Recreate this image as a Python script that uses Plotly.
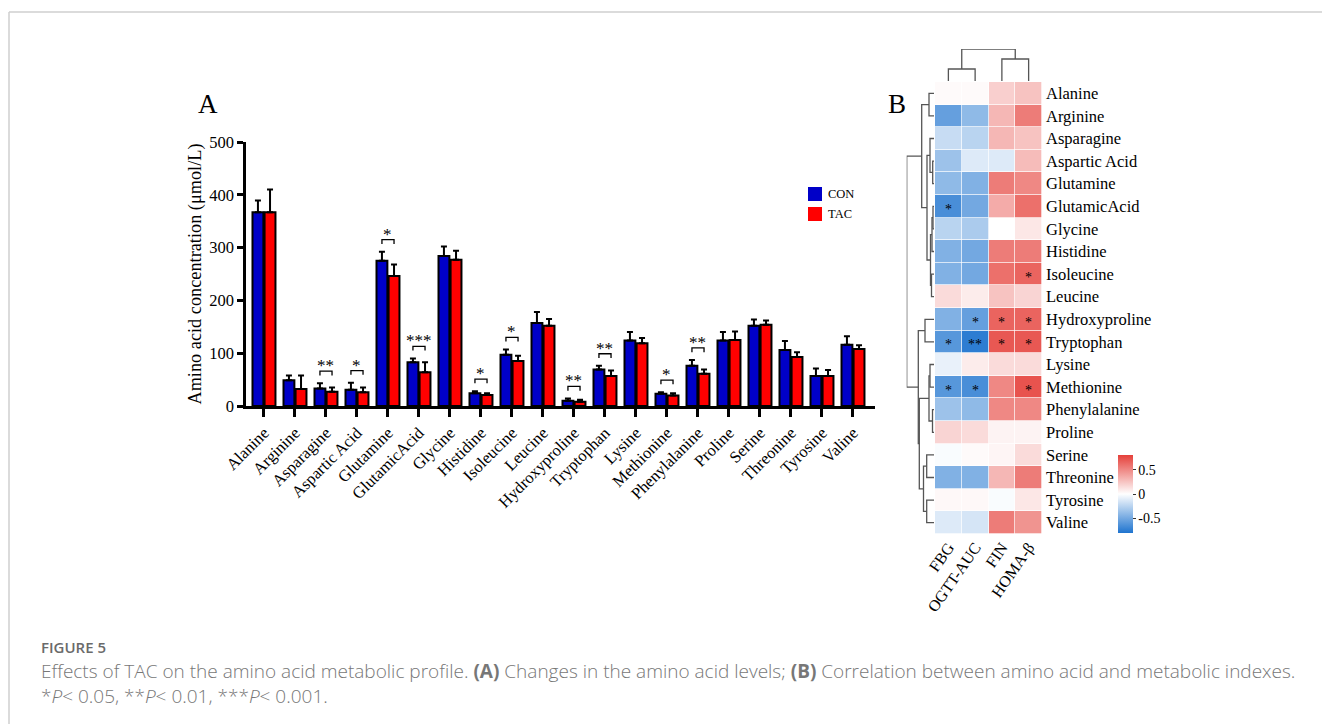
import plotly.graph_objects as go

W, H = 1322, 724


def px(x):
    return x / W


def py(y):
    return 1 - y / H


# ---------------- Panel A data ----------------
amino_acids = ["Alanine", "Arginine", "Asparagine", "Aspartic Acid", "Glutamine",
               "GlutamicAcid", "Glycine", "Histidine", "Isoleucine", "Leucine",
               "Hydroxyproline", "Tryptophan", "Lysine", "Methionine", "Phenylalanine",
               "Proline", "Serine", "Threonine", "Tyrosine", "Valine"]
con_mean = [367, 49, 33, 31, 275, 83, 284, 24, 97, 157, 10, 69, 124, 23, 76, 124, 152, 106, 57, 116]
con_sem = [22, 9, 10, 13, 17, 7, 18, 4, 10, 21, 4, 7, 16, 3, 11, 16, 12, 17, 14, 16]
tac_mean = [367, 32, 27, 26, 246, 64, 277, 21, 85, 152, 8, 57, 119, 20, 61, 125, 154, 93, 57, 108]
tac_sem = [43, 26, 8, 9, 22, 19, 17, 3, 10, 13, 4, 10, 10, 4, 8, 16, 8, 9, 11, 7]
significance = ["", "", "**", "*", "*", "***", "", "*", "*", "", "**", "**", "", "*", "**",
                "", "", "", "", ""]
y_ticks = [0, 100, 200, 300, 400, 500]

# ---------------- Panel B data ----------------
indexes = ["FBG", "OGTT-AUC", "FIN", "HOMA-β"]
corr = [
    [0.02, 0.02, 0.20, 0.25],
    [-0.55, -0.40, 0.30, 0.55],
    [-0.20, -0.25, 0.30, 0.25],
    [-0.35, -0.12, -0.12, 0.28],
    [-0.40, -0.45, 0.55, 0.50],
    [-0.65, -0.50, 0.35, 0.60],
    [-0.25, -0.30, 0.00, 0.10],
    [-0.45, -0.50, 0.55, 0.55],
    [-0.45, -0.50, 0.60, 0.65],
    [0.15, 0.08, 0.25, 0.18],
    [-0.45, -0.55, 0.65, 0.65],
    [-0.60, -0.75, 0.70, 0.70],
    [-0.08, 0.08, 0.15, 0.15],
    [-0.60, -0.65, 0.50, 0.72],
    [-0.35, -0.40, 0.50, 0.50],
    [0.18, 0.15, 0.05, 0.05],
    [-0.02, 0.02, 0.04, 0.15],
    [-0.45, -0.45, 0.30, 0.55],
    [0.03, 0.03, -0.02, 0.10],
    [-0.12, -0.15, 0.55, 0.45],
]
corr_sig = [
    ["", "", "", ""], ["", "", "", ""], ["", "", "", ""], ["", "", "", ""],
    ["", "", "", ""], ["*", "", "", ""], ["", "", "", ""], ["", "", "", ""],
    ["", "", "", "*"], ["", "", "", ""], ["", "*", "*", "*"], ["*", "**", "*", "*"],
    ["", "", "", ""], ["*", "*", "", "*"], ["", "", "", ""], ["", "", "", ""],
    ["", "", "", ""], ["", "", "", ""], ["", "", "", ""], ["", "", "", ""],
]
# hierarchical clustering merges: [child_a, child_b, height]; leaves are 0..n-1
row_merges = [
    [0, 1, 5.0],      # 20
    [3, 4, 1.3],      # 21
    [2, 21, 4.0],     # 22
    [5, 6, 1.0],      # 23
    [23, 7, 2.0],     # 24
    [8, 9, 2.5],      # 25
    [24, 25, 3.5],    # 26
    [22, 26, 7.0],    # 27
    [20, 27, 12.3],   # 28
    [10, 11, 9.0],    # 29
    [12, 13, 4.0],    # 30
    [14, 15, 1.5],    # 31
    [30, 31, 5.0],    # 32
    [16, 17, 7.3],    # 33
    [18, 19, 7.3],    # 34
    [33, 34, 10.5],   # 35
    [32, 35, 14.7],   # 36
    [29, 36, 15.7],   # 37
    [28, 37, 27.3],   # 38
]
col_merges = [
    [0, 1, 12.0],
    [2, 3, 22.0],
    [4, 5, 32.0],
]


def dendro_segments(n_leaves, merges):
    pos = {i: float(i) for i in range(n_leaves)}
    hgt = {i: 0.0 for i in range(n_leaves)}
    xs, ys = [], []
    for k, (a, b, h) in enumerate(merges):
        node = n_leaves + k
        xs += [pos[a], pos[a], pos[b], pos[b], None]
        ys += [hgt[a], h, h, hgt[b], None]
        pos[node] = (pos[a] + pos[b]) / 2
        hgt[node] = h
    return xs, ys


blue = "#0000c8"
red = "#ff0000"
serif = "Liberation Serif, Times New Roman, serif"
n = len(amino_acids)
idx = list(range(n))

fig = go.Figure()

fig.add_trace(go.Bar(
    x=idx, y=con_mean, name="CON",
    marker=dict(color=blue, line=dict(color="black", width=2)),
    error_y=dict(type="data", array=con_sem, arrayminus=[0] * n, symmetric=False,
                 color="black", thickness=2, width=3),
    showlegend=False,
))
fig.add_trace(go.Bar(
    x=idx, y=tac_mean, name="TAC",
    marker=dict(color=red, line=dict(color="black", width=2)),
    error_y=dict(type="data", array=tac_sem, arrayminus=[0] * n, symmetric=False,
                 color="black", thickness=2, width=3),
    showlegend=False,
))

shapes = []
annotations = []

# significance brackets over the bar pairs
half = 0.195
for i, mark in enumerate(significance):
    if not mark:
        continue
    top = max(con_mean[i] + con_sem[i], tac_mean[i] + tac_sem[i]) + 23
    shapes.append(dict(type="path", xref="x", yref="y",
                       path=f"M {i - half} {top - 8} L {i - half} {top} L {i + half} {top} L {i + half} {top - 8}",
                       line=dict(color="black", width=1.3)))
    annotations.append(dict(x=i, y=top, xref="x", yref="y", text=mark, showarrow=False,
                            yanchor="bottom", yshift=-6,
                            font=dict(family=serif, size=17, color="#000000")))

# heatmap
fig.add_trace(go.Heatmap(
    z=corr, x=list(range(len(indexes))), y=list(range(n)),
    xaxis="x2", yaxis="y2", zmin=-0.8, zmax=0.8, xgap=0.7, ygap=0.7,
    colorscale=[[0, "#1f74cf"], [0.5, "#ffffff"], [1, "#e5403a"]],
    colorbar=dict(x=px(1118), xanchor="left", y=py(494), yanchor="middle",
                  thickness=15, len=78, lenmode="pixels", xpad=0, ypad=0,
                  outlinewidth=0, tickvals=[-0.5, 0, 0.5], ticktext=["-0.5", "0", "0.5"],
                  ticks="outside", ticklen=3, tickcolor="#333",
                  tickfont=dict(family=serif, size=14, color="black")),
    hoverinfo="skip",
))
for r in range(n):
    for c in range(len(indexes)):
        if corr_sig[r][c]:
            annotations.append(dict(x=c, y=r, xref="x2", yref="y2", text=corr_sig[r][c],
                                    showarrow=False, yshift=-3,
                                    font=dict(family=serif, size=14, color="black")))

# dendrograms
rx, rh = dendro_segments(n, row_merges)
fig.add_trace(go.Scatter(x=rh, y=rx, xaxis="x3", yaxis="y3", mode="lines",
                         line=dict(color="#555555", width=1.3), showlegend=False,
                         hoverinfo="skip"))
cx, ch = dendro_segments(len(indexes), col_merges)
fig.add_trace(go.Scatter(x=cx, y=ch, xaxis="x4", yaxis="y4", mode="lines",
                         line=dict(color="#555555", width=1.3), showlegend=False,
                         hoverinfo="skip"))

# manual legend for panel A
for k, (lab, col) in enumerate([("CON", blue), ("TAC", red)]):
    y0 = 187 + k * 20
    shapes.append(dict(type="rect", xref="paper", yref="paper",
                       x0=px(808), x1=px(822), y0=py(y0 + 14), y1=py(y0),
                       fillcolor=col, line=dict(width=0)))
    annotations.append(dict(x=px(826), y=py(y0 + 7), xref="paper", yref="paper", text=lab,
                            xanchor="left", yanchor="middle", showarrow=False,
                            font=dict(family=serif, size=12.5, color="black")))

# panel letters
annotations.append(dict(x=px(196), y=py(104), xref="paper", yref="paper", text="A",
                        xanchor="left", yanchor="middle", showarrow=False,
                        font=dict(family=serif, size=27, color="black")))
annotations.append(dict(x=px(886), y=py(104), xref="paper", yref="paper", text="B",
                        xanchor="left", yanchor="middle", showarrow=False,
                        font=dict(family=serif, size=27, color="black")))

# caption
cap_font = "Open Sans, Lato, sans-serif"
annotations.append(dict(x=px(39), y=py(647), xref="paper", yref="paper", text="FIGURE 5",
                        xanchor="left", yanchor="middle", showarrow=False,
                        font=dict(family=cap_font, size=15, color="#6a6a6a", weight=600)))
annotations.append(dict(x=px(39), y=py(671), xref="paper", yref="paper",
                        text="Effects of TAC on the amino acid metabolic profile. <b>(A)</b> Changes in the amino acid levels; "
                             "<b>(B)</b> Correlation between amino acid and metabolic indexes.",
                        xanchor="left", yanchor="middle", showarrow=False,
                        font=dict(family=cap_font, size=19, color="#777777", weight=300)))
annotations.append(dict(x=px(39), y=py(696), xref="paper", yref="paper",
                        text="*<i>P</i>&lt; 0.05, **<i>P</i>&lt; 0.01, ***<i>P</i>&lt; 0.001.",
                        xanchor="left", yanchor="middle", showarrow=False,
                        font=dict(family=cap_font, size=19, color="#777777", weight=300)))

# page frame
shapes.append(dict(type="line", xref="paper", yref="paper", x0=px(9), x1=1, y0=py(12), y1=py(12),
                   line=dict(color="#cfcfcf", width=1.5)))
shapes.append(dict(type="line", xref="paper", yref="paper", x0=px(9), x1=px(9), y0=0, y1=py(12),
                   line=dict(color="#cfcfcf", width=1.5)))

fig.update_layout(
    width=W, height=H, margin=dict(l=0, r=0, t=0, b=0, autoexpand=False),
    paper_bgcolor="white", plot_bgcolor="white",
    barmode="group", bargap=0.22, bargroupgap=0.1,
    showlegend=False,
    shapes=shapes, annotations=annotations,
    xaxis=dict(domain=[px(246), px(875)], range=[-0.58, 19.71], automargin=False,
               tickmode="array", tickvals=idx, ticktext=amino_acids, tickangle=-45,
               ticks="outside", ticklen=8, tickwidth=2.5, tickcolor="black",
               showline=True, linewidth=2.5, linecolor="black", showgrid=False, zeroline=False,
               tickfont=dict(family=serif, size=16.5, color="black")),
    yaxis=dict(domain=[py(406), py(142)], range=[0, 500], automargin=False,
               tickmode="array", tickvals=y_ticks,
               ticks="outside", ticklen=6, tickwidth=2.5, tickcolor="black",
               showline=True, linewidth=2.5, linecolor="black", showgrid=False, zeroline=False,
               tickfont=dict(family=serif, size=16.5, color="black"),
               title=dict(text="Amino acid concentration (μmol/L)", standoff=3,
                          font=dict(family=serif, size=18.3, color="black"))),
    xaxis2=dict(domain=[px(935), px(1042)], range=[-0.5, 3.5], anchor="y2", automargin=False,
                tickmode="array", tickvals=list(range(len(indexes))), ticktext=indexes,
                tickangle=-55, showgrid=False, zeroline=False, showline=False, ticks="",
                tickfont=dict(family=serif, size=16, color="black")),
    yaxis2=dict(domain=[py(534), py(82)], range=[n - 0.5, -0.5], anchor="x2", side="right",
                automargin=False, tickmode="array", tickvals=idx, ticktext=amino_acids,
                ticklabelstandoff=3,
                showgrid=False, zeroline=False, showline=False, ticks="",
                tickfont=dict(family=serif, size=16.5, color="black")),
    xaxis3=dict(domain=[px(906.7), px(934)], range=[27.3, 0], anchor="y3",
                visible=False, automargin=False),
    yaxis3=dict(domain=[py(534), py(82)], range=[n - 0.5, -0.5], anchor="x3",
                visible=False, automargin=False),
    xaxis4=dict(domain=[px(935), px(1042)], range=[-0.5, 3.5], anchor="y4", visible=False,
                automargin=False),
    yaxis4=dict(domain=[py(81), py(49)], range=[0, 32], anchor="x4", visible=False,
                automargin=False),
)

fig.write_html("out.html")
